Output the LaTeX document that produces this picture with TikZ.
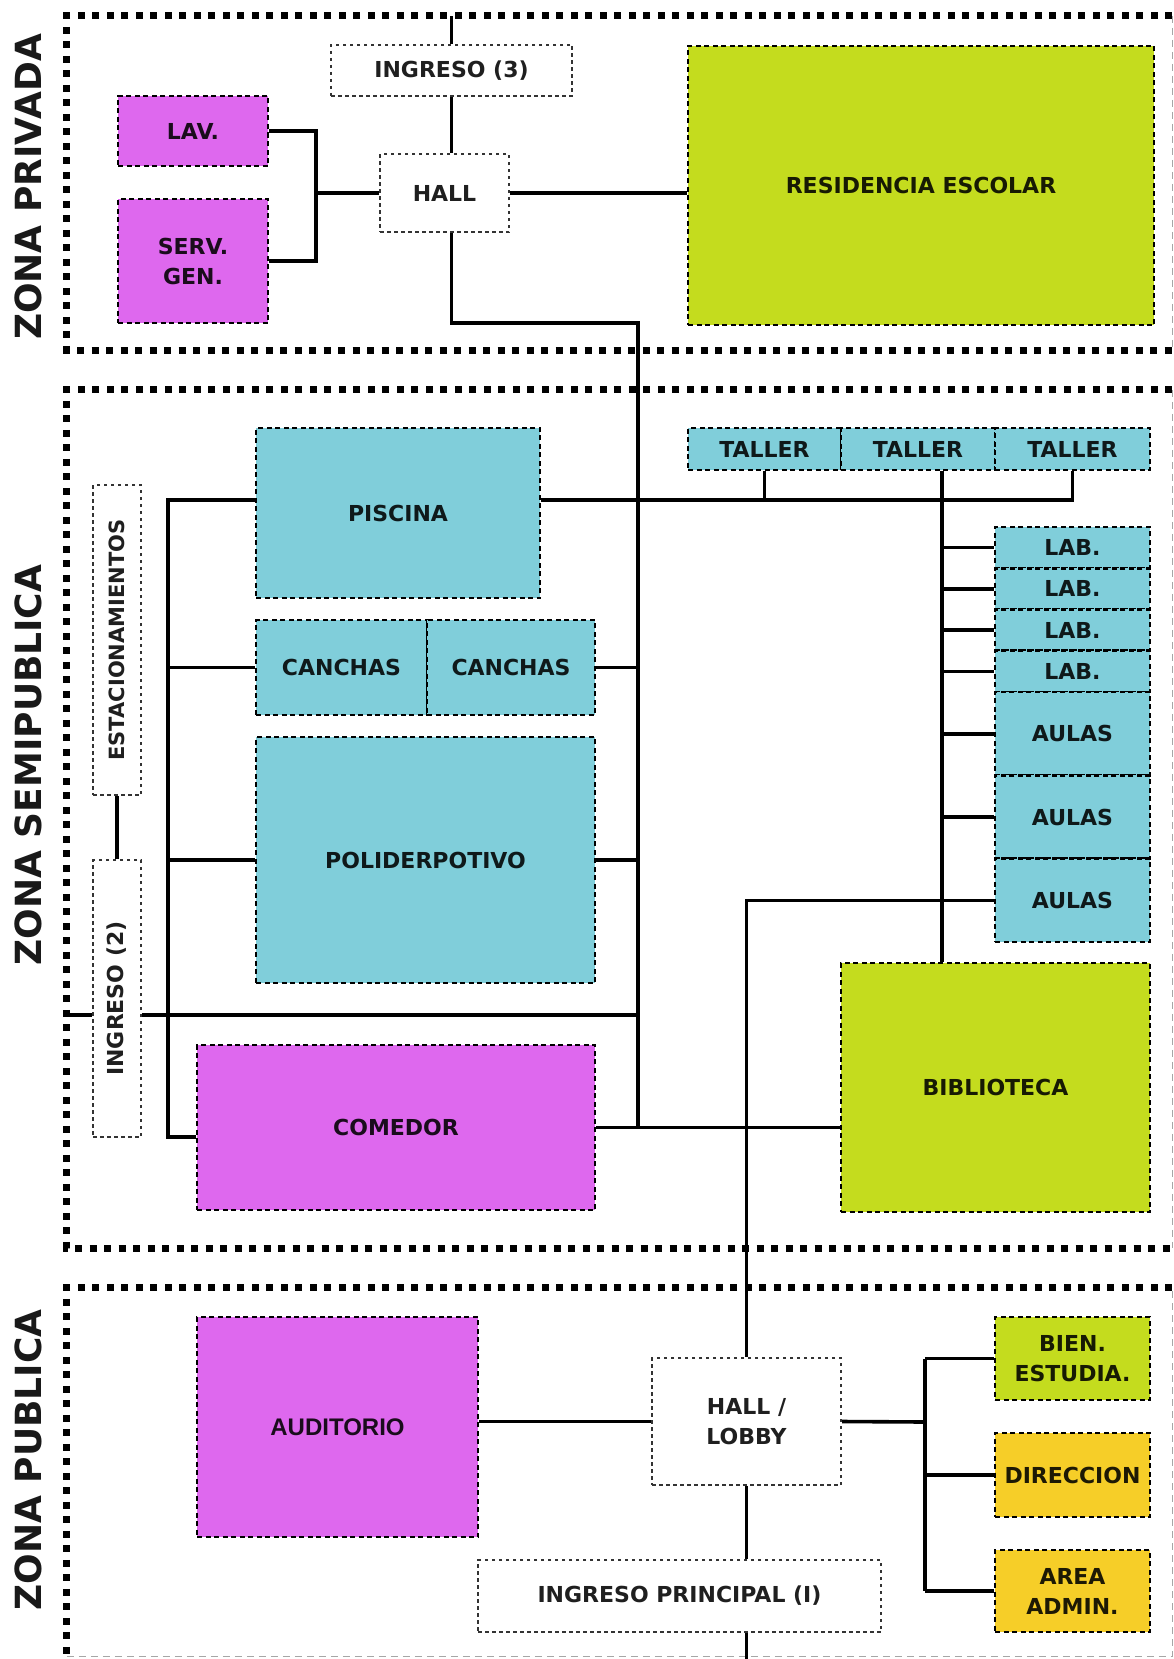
\documentclass[tikz,border=0pt]{standalone}
\usepackage{fontspec}
\usepackage{graphicx}
\setmainfont{DejaVu Sans}
\newfontfamily\audfont{Liberation Sans}
\usetikzlibrary{calc}

\definecolor{magentaroom}{RGB}{222,104,238}
\definecolor{cyanroom}{RGB}{128,206,218}
\definecolor{limeroom}{RGB}{196,220,30}
\definecolor{yellowroom}{RGB}{246,206,40}

\tikzset{
  zonebox/.style={inner sep=0pt, draw=none},
  zoneedge/.style={line width=7pt, dash pattern=on 7pt off 7.5pt, black},
  zoneside/.style={line width=1.4pt, dash pattern=on 7pt off 5pt, black!35},
  zonelabel/.style={rotate=90, inner sep=0pt, font=\fontsize{36}{36}\selectfont\bfseries, text=black!90},
  room/.style={draw=black, line width=2.8pt, dash pattern=on 5pt off 3.5pt, inner sep=0pt,
    align=center, font=\fontsize{22}{30}\selectfont\bfseries, text=black, text opacity=0.88},
  plainroom/.style={room, fill=white, line width=2.2pt, dash pattern=on 3.5pt off 3.5pt, draw=black!80},
  serviceroom/.style={room, fill=magentaroom},
  sportroom/.style={room, fill=cyanroom},
  studyroom/.style={room, fill=limeroom},
  officeroom/.style={room, fill=yellowroom},
  link/.style={line width=3.6pt, black}
}

\begin{document}
\begin{tikzpicture}[x=1pt,y=-1pt]
\fill[white] (0,0) rectangle (1174,1659);
\useasboundingbox (0,0) rectangle (1174,1659);

% zone areas
\node[zonebox, minimum width=1105pt, minimum height=334pt] (z1) at (619.5,183) {};
\node[zonebox, minimum width=1105pt, minimum height=858pt] (z2) at (619.5,819) {};
\node[zonebox, minimum width=1105pt, minimum height=368pt] (z3) at (619.5,1472) {};

\draw[zoneedge] (z1.north east) -- (z1.north west) -- (z1.south west) -- (z1.south east);
\draw[zoneside] (z1.north east) -- (z1.south east);
\draw[zoneedge] (z2.north east) -- (z2.north west) -- (z2.south west) -- (z2.south east);
\draw[zoneside] (z2.north east) -- (z2.south east);
\draw[zoneedge] (z3.north east) -- (z3.north west) -- (z3.south west);
\draw[zoneside] (z3.south west) -- (z3.south east) -- (z3.north east);

\node[zonelabel] (l1) at (28,187) {ZONA PRIVADA};
\node[zonelabel] (l2) at (28,765) {ZONA SEMIPUBLICA};
\node[zonelabel] (l3) at (28,1460) {ZONA PUBLICA};

% private zone
\node[plainroom, minimum width=241pt, minimum height=51pt] (ing3) at (451.5,70.5) {INGRESO (3)};
\node[serviceroom, minimum width=150pt, minimum height=70pt] (lav) at (193,131) {LAV.};
\node[serviceroom, minimum width=150pt, minimum height=124pt] (serv) at (193,261) {SERV.\\GEN.};
\node[plainroom, minimum width=129pt, minimum height=78pt] (hall) at (444.5,193) {HALL};
\node[studyroom, minimum width=466pt, minimum height=279pt] (res) at (921,185.5) {RESIDENCIA ESCOLAR};

% semi-public zone
\node[sportroom, minimum width=284pt, minimum height=170pt] (piscina) at (398,513) {PISCINA};
\node[sportroom, minimum width=171pt, minimum height=95pt] (canA) at (341.5,667.5) {CANCHAS};
\node[sportroom, minimum width=168pt, minimum height=95pt] (canB) at (511,667.5) {CANCHAS};
\node[sportroom, minimum width=339pt, minimum height=246pt] (poli) at (425.5,860) {POLIDERPOTIVO};
\node[plainroom, minimum width=48pt, minimum height=310pt] (estac) at (117,640)
  {\rotatebox{90}{\fontsize{21}{21}\selectfont ESTACIONAMIENTOS}};
\node[plainroom, minimum width=48pt, minimum height=277pt] (ing2) at (117,998.5)
  {\rotatebox{90}{INGRESO (2)}};
\node[serviceroom, minimum width=398pt, minimum height=165pt] (comedor) at (396,1127.5) {COMEDOR};

\node[sportroom, minimum width=153pt, minimum height=42pt] (t1) at (764.5,449) {TALLER};
\node[sportroom, minimum width=154pt, minimum height=42pt] (t2) at (918,449) {TALLER};
\node[sportroom, minimum width=155pt, minimum height=42pt] (t3) at (1072.5,449) {TALLER};

\node[sportroom, minimum width=155pt, minimum height=41.25pt] (lab1) at (1072.5,547.6) {LAB.};
\node[sportroom, minimum width=155pt, minimum height=41.25pt] (lab2) at (1072.5,588.9) {LAB.};
\node[sportroom, minimum width=155pt, minimum height=41.25pt] (lab3) at (1072.5,630.1) {LAB.};
\node[sportroom, minimum width=155pt, minimum height=41.25pt] (lab4) at (1072.5,671.4) {LAB.};
\node[sportroom, minimum width=155pt, minimum height=83.3pt] (aulas1) at (1072.5,733.7) {AULAS};
\node[sportroom, minimum width=155pt, minimum height=83.3pt] (aulas2) at (1072.5,817) {AULAS};
\node[sportroom, minimum width=155pt, minimum height=83.3pt] (aulas3) at (1072.5,900.3) {AULAS};

\node[studyroom, minimum width=309pt, minimum height=249pt] (biblio) at (995.5,1087.5) {BIBLIOTECA};

% public zone
\node[serviceroom, minimum width=281pt, minimum height=220pt, font=\audfont\fontsize{24}{30}\selectfont\bfseries] (audit) at (337.5,1427) {AUDITORIO};
\node[plainroom, minimum width=189pt, minimum height=127pt] (lobby) at (746.5,1421.5) {HALL /\\LOBBY};
\node[studyroom, minimum width=155pt, minimum height=83pt] (bien) at (1072.5,1358.5) {BIEN.\\ESTUDIA.};
\node[officeroom, minimum width=155pt, minimum height=84pt] (direc) at (1072.5,1475) {DIRECCION};
\node[officeroom, minimum width=155pt, minimum height=82pt] (admin) at (1072.5,1591) {AREA\\ADMIN.};
\node[plainroom, minimum width=403pt, minimum height=72pt] (ingP) at (679.5,1596) {INGRESO PRINCIPAL (I)};

% junction points
\coordinate (b1) at (316,193);
\coordinate (sp) at (638,323);
\coordinate (busT) at (168,500);
\coordinate (busB) at (168,1137);
\coordinate (e2) at (67,1015);
\coordinate (lsp) at (942,470);
\coordinate (pbus) at (925,1422);
\coordinate (pageS) at (0,1659);

% private zone links
\draw[link] (ing3.north) -- (ing3.north |- z1.north);
\draw[link] (ing3.south) -- (ing3.south |- hall.north);
\draw[link] (lav.east) -| (b1) |- (serv.east);
\draw[link] (b1) -- (b1 -| hall.west);
\draw[link] (hall.east) -- (hall.east -| res.west);
\draw[link] (ing3.south |- hall.south) -- (ing3.south |- sp) -- (sp) -- (sp |- comedor.east);

% semi-public zone links
\draw[link] (busT -| piscina.west) -- (busT) -- (busB) -- (busB -| comedor.west);
\draw[link] (busT -| piscina.east) -- (busT -| t3.south) -- (t3.south);
\draw[link] (t1.south) -- (t1.south |- busT);
\draw[link] (t2.south -| lsp) -- (lsp |- biblio.north);
\draw[link] (canA.west -| busT) -- (canA.west);
\draw[link] (canB.east) -- (canB.east -| sp);
\draw[link] (poli.west -| busT) -- (poli.west);
\draw[link] (poli.east) -- (poli.east -| sp);
\draw[link] (estac.south) -- (ing2.north);
\draw[link] (e2) -- (e2 -| ing2.west);
\draw[link] (e2 -| ing2.east) -- (e2 -| sp);
\draw[link] (comedor.east) -- (comedor.east -| biblio.west);
\foreach \r in {lab1,lab2,lab3,lab4,aulas1,aulas2}
  \draw[link] (\r.west -| lsp) -- (\r.west);
\draw[link] (aulas3.west) -- (aulas3.west -| lobby.north) -- (lobby.north);

% public zone links
\draw[link] (lobby.west -| audit.east) -- (lobby.west);
\draw[link] (lobby.east) -- (pbus);
\draw[link] (bien.west -| pbus) -- (admin.west -| pbus);
\draw[link] (bien.west -| pbus) -- (bien.west);
\draw[link] (direc.west -| pbus) -- (direc.west);
\draw[link] (admin.west -| pbus) -- (admin.west);
\draw[link] (lobby.south) -- (lobby.south |- ingP.north);
\draw[link] (lobby.south |- ingP.south) -- (lobby.south |- pageS);
\end{tikzpicture}
\end{document}
